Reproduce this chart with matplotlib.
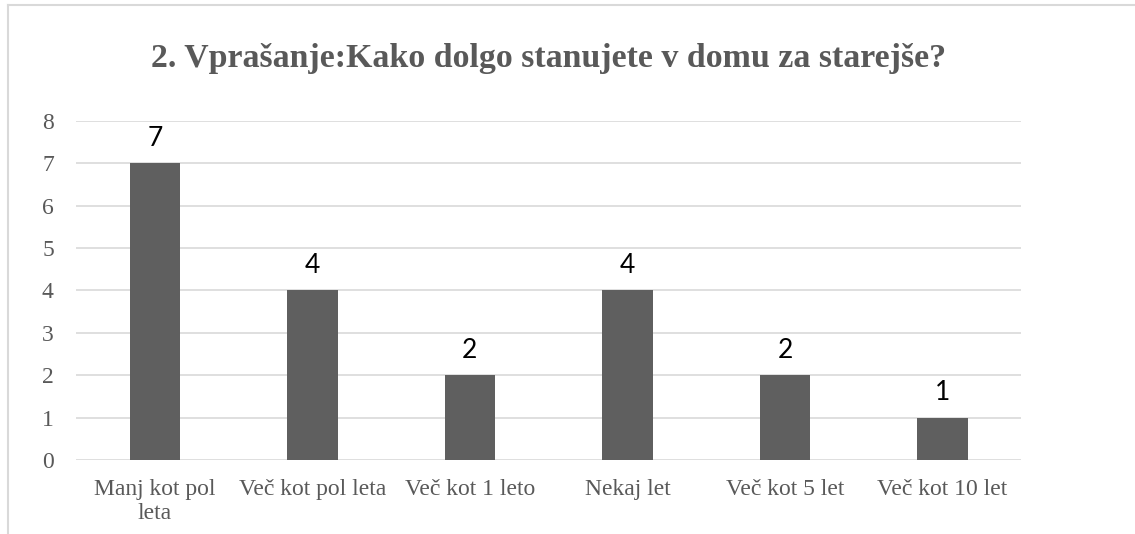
import matplotlib.pyplot as plt
from matplotlib.lines import Line2D

categories = ["Manj kot pol\nleta", "Več kot pol leta", "Več kot 1 leto",
              "Nekaj let", "Več kot 5 let", "Več kot 10 let"]
values = [7, 4, 2, 4, 2, 1]
yticks = [0, 1, 2, 3, 4, 5, 6, 7, 8]

grey = "#595959"
bar_color = "#5f5f5f"
grid_color = "#d9d9d9"

fig = plt.figure(figsize=(11.35, 5.34), dpi=100)
ax = fig.add_axes([0.067, 0.1386, 0.8329, 0.6348])

x = range(len(categories))
bars = ax.bar(x, values, width=0.32, color=bar_color, zorder=3)

for b, v in zip(bars, values):
    ax.annotate(str(v), (b.get_x() + b.get_width() / 2, v), xytext=(0, 9),
                textcoords="offset points", ha="center", va="bottom",
                fontsize=19, family="Lato", color="black")

ax.set_xlim(-0.5, len(categories) - 0.5)
ax.set_ylim(0, 8)
ax.set_yticks(yticks)
ax.set_xticks(list(x))
ax.set_xticklabels(categories, family="Liberation Serif", fontsize=17,
                   color=grey, linespacing=1.15)
ax.set_yticklabels([str(t) for t in yticks], family="Liberation Serif",
                   fontsize=17, color=grey)
ax.tick_params(axis="both", length=0)
ax.tick_params(axis="x", pad=14)
ax.tick_params(axis="y", pad=16)

ax.grid(axis="y", color=grid_color, linewidth=1.2, zorder=0)
for s in ax.spines.values():
    s.set_visible(False)

fig.text(0.483, 0.89, "2. Vprašanje:Kako dolgo stanujete v domu za starejše?",
         ha="center", va="center", family="Liberation Serif",
         fontweight="bold", fontsize=24.4, color=grey)

# outer frame (only top and left edges are visible in the crop)
fig.add_artist(Line2D([0.007, 1.0], [0.99, 0.99], color=grid_color, lw=1.5))
fig.add_artist(Line2D([0.007, 0.007], [0.0, 0.99], color=grid_color, lw=1.5))

fig.savefig("out.png", dpi=100)
